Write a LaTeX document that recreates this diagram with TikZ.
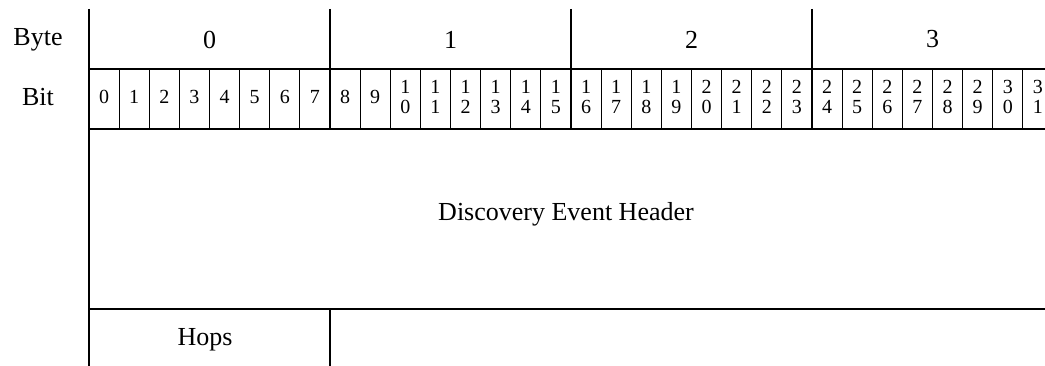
\documentclass[tikz,border=0pt]{standalone}
\usepackage{fontspec}
\setmainfont{Liberation Serif}
\usepackage{tikz}

\begin{document}
\begin{tikzpicture}[x=0.75pt,y=0.75pt,yscale=-1,xscale=1,
  thickrule/.style={line width=1.5},
  bitrule/.style={line width=0.75},
  lbl/.style={inner sep=0.75pt,font=\fontsize{19.5}{19.5}\selectfont},
  bitlbl/.style={inner sep=0.75pt,align=center,font=\fontsize{15}{15}\selectfont}]
\useasboundingbox (0,0) rectangle (1045,366);

%Straight Lines [id:left border]
\draw [thickrule]    (89,9) -- (89,366) ;
%Straight Lines [id:byte borders]
\draw [thickrule]    (330,9) -- (330,129) ;
\draw [thickrule]    (571,9) -- (571,129) ;
\draw [thickrule]    (812,9) -- (812,129) ;
%Straight Lines [id:row borders]
\draw [thickrule]    (89,69) -- (1045,69) ;
\draw [thickrule]    (89,129) -- (1045,129) ;
\draw [thickrule]    (89,309) -- (1045,309) ;
%Straight Lines [id:hops border]
\draw [thickrule]    (330,309) -- (330,366) ;

%Shape: Grid [id:bit borders]
\draw [bitrule]  (119.13,69) -- (119.13,129)(149.25,69) -- (149.25,129)(179.38,69) -- (179.38,129)(209.5,69) -- (209.5,129)(239.63,69) -- (239.63,129)(269.75,69) -- (269.75,129)(299.88,69) -- (299.88,129) ;
\draw [bitrule]  (360.13,69) -- (360.13,129)(390.25,69) -- (390.25,129)(420.38,69) -- (420.38,129)(450.5,69) -- (450.5,129)(480.63,69) -- (480.63,129)(510.75,69) -- (510.75,129)(540.88,69) -- (540.88,129) ;
\draw [bitrule]  (601.13,69) -- (601.13,129)(631.25,69) -- (631.25,129)(661.38,69) -- (661.38,129)(691.5,69) -- (691.5,129)(721.63,69) -- (721.63,129)(751.75,69) -- (751.75,129)(781.88,69) -- (781.88,129) ;
\draw [bitrule]  (842.13,69) -- (842.13,129)(872.25,69) -- (872.25,129)(902.38,69) -- (902.38,129)(932.5,69) -- (932.5,129)(962.63,69) -- (962.63,129)(992.75,69) -- (992.75,129)(1022.88,69) -- (1022.88,129) ;

% Text Node
\draw (38,40) node [lbl] (bytehdr) {Byte};
% Text Node
\draw (38,97.5) node [lbl] (bithdr) {Bit};
% Text Node
\draw (209.5,39.5) node [lbl] (byte0) {0};
% Text Node
\draw (450.5,39.5) node [lbl] (byte1) {1};
% Text Node
\draw (691.5,39.5) node [lbl] (byte2) {2};
% Text Node
\draw (932.5,39.5) node [lbl] (byte3) {3};

% Text Node
\draw (104.06,97) node [bitlbl] (bit0) {0};
% Text Node
\draw (134.19,97) node [bitlbl] (bit1) {1};
% Text Node
\draw (164.31,97) node [bitlbl] (bit2) {2};
% Text Node
\draw (194.44,97) node [bitlbl] (bit3) {3};
% Text Node
\draw (224.56,97) node [bitlbl] (bit4) {4};
% Text Node
\draw (254.69,97) node [bitlbl] (bit5) {5};
% Text Node
\draw (284.81,97) node [bitlbl] (bit6) {6};
% Text Node
\draw (314.94,97) node [bitlbl] (bit7) {7};
% Text Node
\draw (345.06,97) node [bitlbl] (bit8) {8};
% Text Node
\draw (375.19,97) node [bitlbl] (bit9) {9};
% Text Node
\draw (405.31,97) node [bitlbl] (bit10) {1\\0};
% Text Node
\draw (435.44,97) node [bitlbl] (bit11) {1\\1};
% Text Node
\draw (465.56,97) node [bitlbl] (bit12) {1\\2};
% Text Node
\draw (495.69,97) node [bitlbl] (bit13) {1\\3};
% Text Node
\draw (525.81,97) node [bitlbl] (bit14) {1\\4};
% Text Node
\draw (555.94,97) node [bitlbl] (bit15) {1\\5};
% Text Node
\draw (586.06,97) node [bitlbl] (bit16) {1\\6};
% Text Node
\draw (616.19,97) node [bitlbl] (bit17) {1\\7};
% Text Node
\draw (646.31,97) node [bitlbl] (bit18) {1\\8};
% Text Node
\draw (676.44,97) node [bitlbl] (bit19) {1\\9};
% Text Node
\draw (706.56,97) node [bitlbl] (bit20) {2\\0};
% Text Node
\draw (736.69,97) node [bitlbl] (bit21) {2\\1};
% Text Node
\draw (766.81,97) node [bitlbl] (bit22) {2\\2};
% Text Node
\draw (796.94,97) node [bitlbl] (bit23) {2\\3};
% Text Node
\draw (827.06,97) node [bitlbl] (bit24) {2\\4};
% Text Node
\draw (857.19,97) node [bitlbl] (bit25) {2\\5};
% Text Node
\draw (887.31,97) node [bitlbl] (bit26) {2\\6};
% Text Node
\draw (917.44,97) node [bitlbl] (bit27) {2\\7};
% Text Node
\draw (947.56,97) node [bitlbl] (bit28) {2\\8};
% Text Node
\draw (977.69,97) node [bitlbl] (bit29) {2\\9};
% Text Node
\draw (1007.81,97) node [bitlbl] (bit30) {3\\0};
% Text Node
\draw (1037.94,97) node [bitlbl] (bit31) {3\\1};

% Text Node
\draw (566,214.5) node [lbl] (hdr) {Discovery Event Header};
% Text Node
\draw (205,340) node [lbl] (hops) {Hops};

\end{tikzpicture}
\end{document}
